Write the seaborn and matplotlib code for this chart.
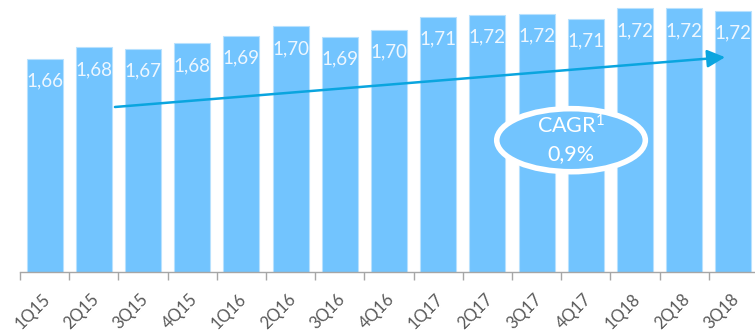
import numpy as np
import pandas as pd
import seaborn as sns
import matplotlib.pyplot as plt
import matplotlib.transforms as mtransforms
from matplotlib.patches import Ellipse

# quarters and values
quarters = ['1Q15', '2Q15', '3Q15', '4Q15', '1Q16', '2Q16', '3Q16', '4Q16',
            '1Q17', '2Q17', '3Q17', '4Q17', '1Q18', '2Q18', '3Q18']
values = [1.662, 1.676, 1.674, 1.681, 1.690, 1.702, 1.689, 1.698,
          1.714, 1.716, 1.717, 1.711, 1.724, 1.724, 1.721]
cagr_title = r'CAGR$^{1}$'
cagr_value = '0,9%'

bar_color = '#72c4fe'
arrow_color = '#0aa5df'

df = pd.DataFrame({'quarter': quarters, 'value': values})

sns.set_theme(style='white')
plt.rcParams['font.family'] = ['Lato', 'DejaVu Sans']
plt.rcParams['mathtext.fontset'] = 'custom'
plt.rcParams['mathtext.rm'] = 'Lato'
plt.rcParams['mathtext.default'] = 'rm'

fig = plt.figure(figsize=(7.55, 3.3), dpi=100)
ax = fig.add_axes([20 / 755, 58 / 330, 738 / 755, 272 / 330])

sns.barplot(data=df, x='quarter', y='value', color=bar_color, width=0.73,
            edgecolor='#b8e1fe', linewidth=0.8, saturation=1, ax=ax)

ax.set_xlim(-0.5, len(quarters) - 0.5)
ax.set_ylim(1.40, 1.7343)

# value labels inside the bars
for i, v in enumerate(values):
    ax.annotate(f'{v:.2f}'.replace('.', ','), (i, v), xytext=(0, -16),
                textcoords='offset points', ha='center', va='center',
                color='#eef7ff', fontsize=13.5)

# trend arrow
ax.annotate('', xy=(13.83, 1.664), xytext=(1.43, 1.6028),
            arrowprops=dict(arrowstyle='-|>,head_length=0.9,head_width=0.45',
                            color=arrow_color, lw=1.8, shrinkA=0, shrinkB=0))

# CAGR bubble
cx, cy = 10.70, 1.562
ax.add_patch(Ellipse((cx, cy), 3.02, 0.0775, facecolor=bar_color,
                     edgecolor='white', lw=4, zorder=5))
ax.text(cx, cy + 0.0175, cagr_title, ha='center', va='center', color='white',
        fontsize=15.5, zorder=6)
ax.text(cx, cy - 0.0175, cagr_value, ha='center', va='center', color='white',
        fontsize=15.5, zorder=6)

# axis styling
for s in ['left', 'top', 'right']:
    ax.spines[s].set_visible(False)
ax.spines['bottom'].set_color('#a6a6a6')
ax.spines['bottom'].set_linewidth(1)
ax.set_yticks([])
ax.set_xlabel('')
ax.set_ylabel('')

ax.set_xticks(np.arange(len(quarters)))
ax.set_xticklabels(quarters, rotation=45, ha='right', rotation_mode='anchor',
                   color='#595959', fontsize=12)
ax.tick_params(axis='x', which='major', length=0, pad=13.5)
shift = mtransforms.ScaledTranslation(-3 / 100, 0, fig.dpi_scale_trans)
for lbl in ax.get_xticklabels():
    lbl.set_transform(lbl.get_transform() + shift)
ax.set_xticks(np.arange(len(quarters) + 1) - 0.5, minor=True)
ax.tick_params(axis='x', which='minor', length=6, width=1, color='#a6a6a6',
               bottom=True)

fig.savefig('out.png', dpi=100)
